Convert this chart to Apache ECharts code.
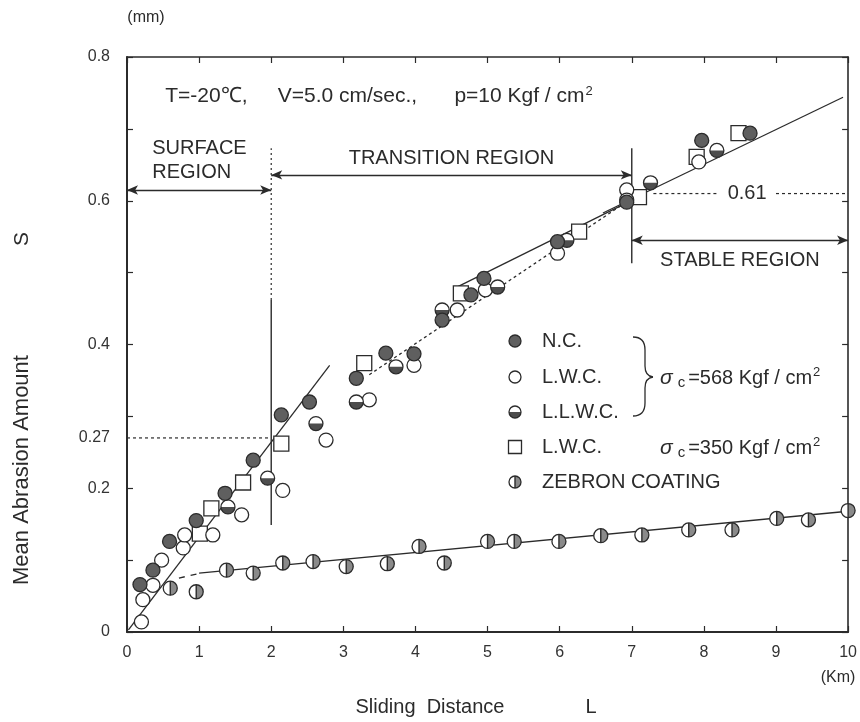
<!DOCTYPE html>
<html>
<head>
<meta charset="utf-8">
<script src="https://cdn.jsdelivr.net/npm/echarts@6/dist/echarts.min.js"></script>
<style>
  html, body { margin: 0; padding: 0; background: #fff; }
  #chart { width: 860px; height: 722px; }
</style>
</head>
<body>
<div id="chart"></div>
<script>
// Sliding distance L (km) vs mean abrasion amount S (mm)
const xTickValues = [0, 1, 2, 3, 4, 5, 6, 7, 8, 9, 10];
const yLabelValues = [0, 0.2, 0.27, 0.4, 0.6, 0.8];

// N.C.  (sigma_c = 568 Kgf/cm2)
const ncData = [
  [0.18, 0.066], [0.36, 0.086], [0.59, 0.126], [0.96, 0.155], [1.36, 0.193],
  [1.75, 0.239], [2.14, 0.302], [2.53, 0.320], [3.18, 0.353], [3.59, 0.388],
  [3.98, 0.387], [4.37, 0.434], [4.77, 0.469], [4.95, 0.492], [5.97, 0.543],
  [6.93, 0.598], [7.97, 0.684], [8.64, 0.694]
];
// L.W.C. (sigma_c = 568 Kgf/cm2)
const lwc568Data = [
  [0.20, 0.014], [0.22, 0.045], [0.36, 0.065], [0.48, 0.100], [0.78, 0.117],
  [0.80, 0.135], [1.19, 0.135], [1.59, 0.163], [2.16, 0.197], [2.76, 0.267],
  [3.36, 0.323], [3.98, 0.371], [4.58, 0.448], [4.97, 0.476], [5.97, 0.527],
  [6.93, 0.615], [7.93, 0.654]
];
// L.L.W.C. (sigma_c = 568 Kgf/cm2)
const llwcData = [
  [1.40, 0.174], [1.95, 0.214], [2.62, 0.290], [3.18, 0.320], [3.73, 0.369],
  [4.37, 0.448], [5.14, 0.480], [6.10, 0.545], [6.93, 0.601], [7.26, 0.625],
  [8.18, 0.670]
];
// L.W.C. (sigma_c = 350 Kgf/cm2)
const lwc350Data = [
  [1.01, 0.137], [1.17, 0.172], [1.61, 0.208], [2.14, 0.262], [3.29, 0.374],
  [4.63, 0.471], [6.27, 0.557], [7.10, 0.605], [7.90, 0.661], [8.48, 0.694]
];
// ZEBRON COATING
const zebronData = [
  [0.60, 0.061], [0.96, 0.056], [1.38, 0.086], [1.75, 0.082], [2.16, 0.096],
  [2.58, 0.098], [3.04, 0.091], [3.61, 0.095], [4.05, 0.119], [4.40, 0.096],
  [5.00, 0.126], [5.37, 0.126], [5.99, 0.126], [6.57, 0.134], [7.14, 0.135],
  [7.79, 0.142], [8.39, 0.142], [9.01, 0.158], [9.45, 0.156], [10.0, 0.169]
];

// Fitted trend lines
const surfaceFit = [[0.02, 0.003], [2.81, 0.371]];
const transitionDotted = [[3.36, 0.358], [6.95, 0.600]];
const transitionSolid = [[4.54, 0.478], [6.95, 0.598]];
const stableFit = [[6.60, 0.583], [9.93, 0.744]];
const zebronLead = [[0.72, 0.075], [0.98, 0.081]];
const zebronFit = [[1.0, 0.082], [10.0, 0.168]];

// Region boundaries and reference levels
const boundary2Dotted = [[2, 0.462], [2, 0.673]];
const boundary2Solid = [[2, 0.149], [2, 0.462]];
const boundary7 = [[7, 0.513], [7, 0.673]];
const level027 = [[0, 0.27], [2, 0.27]];
const level061Left = [[7.30, 0.61], [8.20, 0.61]];
const level061Right = [[9.00, 0.61], [10, 0.61]];

const INK = '#2b2b2b';
const FONT = '"Liberation Sans", Arial, Helvetica, sans-serif';

function markerShapes(kind, x, y, r) {
  const edge = { stroke: INK, lineWidth: 1.3 };
  const ring = { type: 'circle', shape: { cx: x, cy: y, r }, style: Object.assign({ fill: 'none' }, edge) };
  if (kind === 'nc') {
    return [{ type: 'circle', shape: { cx: x, cy: y, r }, style: Object.assign({ fill: '#5f5f5f' }, edge) }];
  }
  if (kind === 'open') {
    return [{ type: 'circle', shape: { cx: x, cy: y, r }, style: Object.assign({ fill: '#fff' }, edge) }];
  }
  if (kind === 'half') {
    return [
      { type: 'circle', shape: { cx: x, cy: y, r }, style: { fill: '#fff' } },
      { type: 'sector', shape: { cx: x, cy: y, r0: 0, r, startAngle: 0, endAngle: Math.PI, clockwise: true }, style: { fill: '#4d4d4d' } },
      ring
    ];
  }
  if (kind === 'square') {
    return [{ type: 'rect', shape: { x: x - r - 0.5, y: y - r - 0.5, width: 2 * r + 1, height: 2 * r + 1 }, style: Object.assign({ fill: '#fff' }, edge) }];
  }
  // zebron: split circle, right half shaded
  return [
    { type: 'circle', shape: { cx: x, cy: y, r }, style: { fill: '#fff' } },
    { type: 'sector', shape: { cx: x, cy: y, r0: 0, r, startAngle: -Math.PI / 2, endAngle: Math.PI / 2, clockwise: true }, style: { fill: '#8a8a8a' } },
    { type: 'line', shape: { x1: x, y1: y - r, x2: x, y2: y + r }, style: { stroke: INK, lineWidth: 1.4 } },
    ring
  ];
}

function markerSeries(name, data, kind) {
  return {
    type: 'custom', name, data, z: 5, clip: false,
    encode: { x: 0, y: 1 },
    renderItem(params, api) {
      const p = api.coord([api.value(0), api.value(1)]);
      return { type: 'group', children: markerShapes(kind, p[0], p[1], 7) };
    }
  };
}

function guideLine(data, dash, width) {
  return {
    type: 'line', data, symbol: 'none', silent: true, z: 3,
    lineStyle: { color: INK, width: width || 1.3, type: dash || 'solid' }
  };
}

const chart = echarts.init(document.getElementById('chart'), null, { renderer: 'canvas' });

const axisCommon = {
  type: 'value',
  splitLine: { show: false },
  axisLine: { show: true, lineStyle: { color: INK, width: 1.6 } },
  axisTick: { show: true, inside: true, length: 6, lineStyle: { color: INK, width: 1.2 } }
};

chart.setOption({
  animation: false,
  backgroundColor: '#fff',
  grid: { left: 127, right: 10, top: 57, bottom: 90 },
  xAxis: [
    Object.assign({}, axisCommon, {
      min: 0, max: 10, interval: 1, position: 'bottom',
      axisLine: { show: true, onZero: false, lineStyle: { color: INK, width: 2 } },
      axisLabel: { color: '#333', fontSize: 16, fontFamily: FONT, margin: 13,
        customValues: xTickValues }
    }),
    Object.assign({}, axisCommon, {
      min: 0, max: 10, interval: 1, position: 'top',
      axisLine: { show: true, onZero: false, lineStyle: { color: INK, width: 1.6 } },
      axisLabel: { show: false }
    })
  ],
  yAxis: [
    Object.assign({}, axisCommon, {
      min: 0, max: 0.8, interval: 0.1, position: 'left',
      axisLine: { show: true, onZero: false, lineStyle: { color: INK, width: 2 } },
      axisLabel: {
        color: '#333', fontSize: 16, fontFamily: FONT, margin: 17,
        customValues: yLabelValues,
        formatter: v => (v === 0 ? '0' : String(v))
      }
    }),
    Object.assign({}, axisCommon, {
      min: 0, max: 0.8, interval: 0.1, position: 'right',
      axisLine: { show: true, onZero: false, lineStyle: { color: INK, width: 1.6 } },
      axisLabel: { show: false }
    })
  ],
  series: [
    guideLine(surfaceFit),
    guideLine(transitionDotted, [3, 3]),
    guideLine(transitionSolid),
    guideLine(stableFit),
    guideLine(zebronLead, [6, 6]),
    guideLine(zebronFit),
    guideLine(boundary2Dotted, [2, 3], 1.2),
    guideLine(boundary2Solid, 'solid', 1.4),
    guideLine(boundary7, 'solid', 1.4),
    guideLine(level027, [3, 3], 1.2),
    guideLine(level061Left, [3, 3], 1.2),
    guideLine(level061Right, [3, 3], 1.2),
    {
      type: 'line', data: [], silent: true,
      markLine: {
        silent: true, animation: false,
        symbol: ['arrow', 'arrow'], symbolSize: [7, 11],
        label: { show: false },
        lineStyle: { color: INK, width: 1.3, type: 'solid' },
        data: [
          [{ coord: [0, 0.615] }, { coord: [2, 0.615] }],
          [{ coord: [2, 0.636] }, { coord: [7, 0.636] }],
          [{ coord: [7, 0.545] }, { coord: [10, 0.545] }]
        ]
      }
    },
    markerSeries('ZEBRON COATING', zebronData, 'zebron'),
    markerSeries('L.W.C. 350', lwc350Data, 'square'),
    markerSeries('L.W.C. 568', lwc568Data, 'open'),
    markerSeries('L.L.W.C.', llwcData, 'half'),
    markerSeries('N.C.', ncData, 'nc')
  ]
});

// Text annotations placed in data space
const toPx = (x, y) => chart.convertToPixel({ seriesIndex: 0 }, [x, y]);
const NOTE_SIZE = 20;
const txtStyle = (extra) => Object.assign({ fill: '#2b2b2b', fontFamily: FONT, fontSize: NOTE_SIZE }, extra);
const rich = {
  sup: { fontSize: 13, verticalAlign: 'top', padding: [0, 0, 10, 1], fontFamily: FONT, fill: '#2b2b2b' },
  sub: { fontSize: 15, padding: [10, 3, 0, 5], fontFamily: FONT, fill: '#2b2b2b' },
  it: { fontSize: 21, fontStyle: 'italic', fontFamily: FONT, fill: '#2b2b2b' }
};

function noteAt(x, y, text, align, size) {
  const p = toPx(x, y);
  return { type: 'text', x: p[0], y: p[1], z: 10, silent: true,
    style: txtStyle({ text, align: align || 'left', verticalAlign: 'middle', rich, fontSize: size || NOTE_SIZE }) };
}

const graphics = [
  noteAt(0.53, 0.745, 'T=-20℃,', 'left', 21),
  noteAt(2.09, 0.745, 'V=5.0 cm/sec.,', 'left', 21),
  noteAt(4.54, 0.745, 'p=10 Kgf / cm{sup|2}', 'left', 21),
  noteAt(0.35, 0.673, 'SURFACE'),
  noteAt(0.35, 0.640, 'REGION'),
  noteAt(4.5, 0.659, 'TRANSITION REGION', 'center'),
  noteAt(8.5, 0.517, 'STABLE REGION', 'center'),
  noteAt(8.6, 0.61, '0.61', 'center')
];

// Legend block
const legendRows = [
  ['nc', 'N.C.'],
  ['open', 'L.W.C.'],
  ['half', 'L.L.W.C.'],
  ['square', 'L.W.C.'],
  ['zebron', 'ZEBRON COATING']
];
const legendY = [341, 377, 412, 447, 482];
legendRows.forEach((row, i) => {
  graphics.push({ type: 'group', silent: true, z: 10, children: markerShapes(row[0], 515, legendY[i], 6) });
  graphics.push({ type: 'text', x: 542, y: legendY[i], z: 10, silent: true,
    style: txtStyle({ text: row[1], verticalAlign: 'middle' }) });
});

// Right brace grouping the first three legend rows
const braceStroke = { fill: 'none', stroke: INK, lineWidth: 1.3 };
const braceParts = [
  { type: 'bezierCurve', shape: { x1: 633, y1: 337, cpx1: 645, cpy1: 337, x2: 645, y2: 350 } },
  { type: 'line', shape: { x1: 645, y1: 350, x2: 645, y2: 366 } },
  { type: 'bezierCurve', shape: { x1: 645, y1: 366, cpx1: 645, cpy1: 376, x2: 653, y2: 377 } },
  { type: 'bezierCurve', shape: { x1: 653, y1: 377, cpx1: 645, cpy1: 378, x2: 645, y2: 388 } },
  { type: 'line', shape: { x1: 645, y1: 388, x2: 645, y2: 403 } },
  { type: 'bezierCurve', shape: { x1: 645, y1: 403, cpx1: 645, cpy1: 416, x2: 633, y2: 416 } }
];
braceParts.forEach(part => {
  graphics.push(Object.assign({ z: 10, silent: true, style: braceStroke }, part));
});
graphics.push({ type: 'text', x: 660, y: 378, z: 10, silent: true,
  style: txtStyle({ text: '{it|σ}{sub|c}=568 Kgf / cm{sup|2}', verticalAlign: 'middle', rich }) });
graphics.push({ type: 'text', x: 660, y: 448, z: 10, silent: true,
  style: txtStyle({ text: '{it|σ}{sub|c}=350 Kgf / cm{sup|2}', verticalAlign: 'middle', rich }) });

// Axis titles and units
graphics.push({ type: 'text', x: 146, y: 18, silent: true,
  style: txtStyle({ text: '(mm)', fontSize: 16, align: 'center', verticalAlign: 'middle' }) });
graphics.push({ type: 'text', x: 838, y: 678, silent: true,
  style: txtStyle({ text: '(Km)', fontSize: 16, align: 'center', verticalAlign: 'middle' }) });
graphics.push({ type: 'text', x: 22, y: 470, rotation: Math.PI / 2, silent: true,
  style: txtStyle({ text: 'Mean Abrasion Amount', fontSize: 22, align: 'center', verticalAlign: 'middle' }) });
graphics.push({ type: 'text', x: 22, y: 239, rotation: Math.PI / 2, silent: true,
  style: txtStyle({ text: 'S', fontSize: 21, align: 'center', verticalAlign: 'middle' }) });
graphics.push({ type: 'text', x: 430, y: 707, silent: true,
  style: txtStyle({ text: 'Sliding  Distance', fontSize: 20, align: 'center', verticalAlign: 'middle' }) });
graphics.push({ type: 'text', x: 591, y: 707, silent: true,
  style: txtStyle({ text: 'L', fontSize: 20, align: 'center', verticalAlign: 'middle' }) });

chart.setOption({ graphic: graphics });
</script>
</body>
</html>
